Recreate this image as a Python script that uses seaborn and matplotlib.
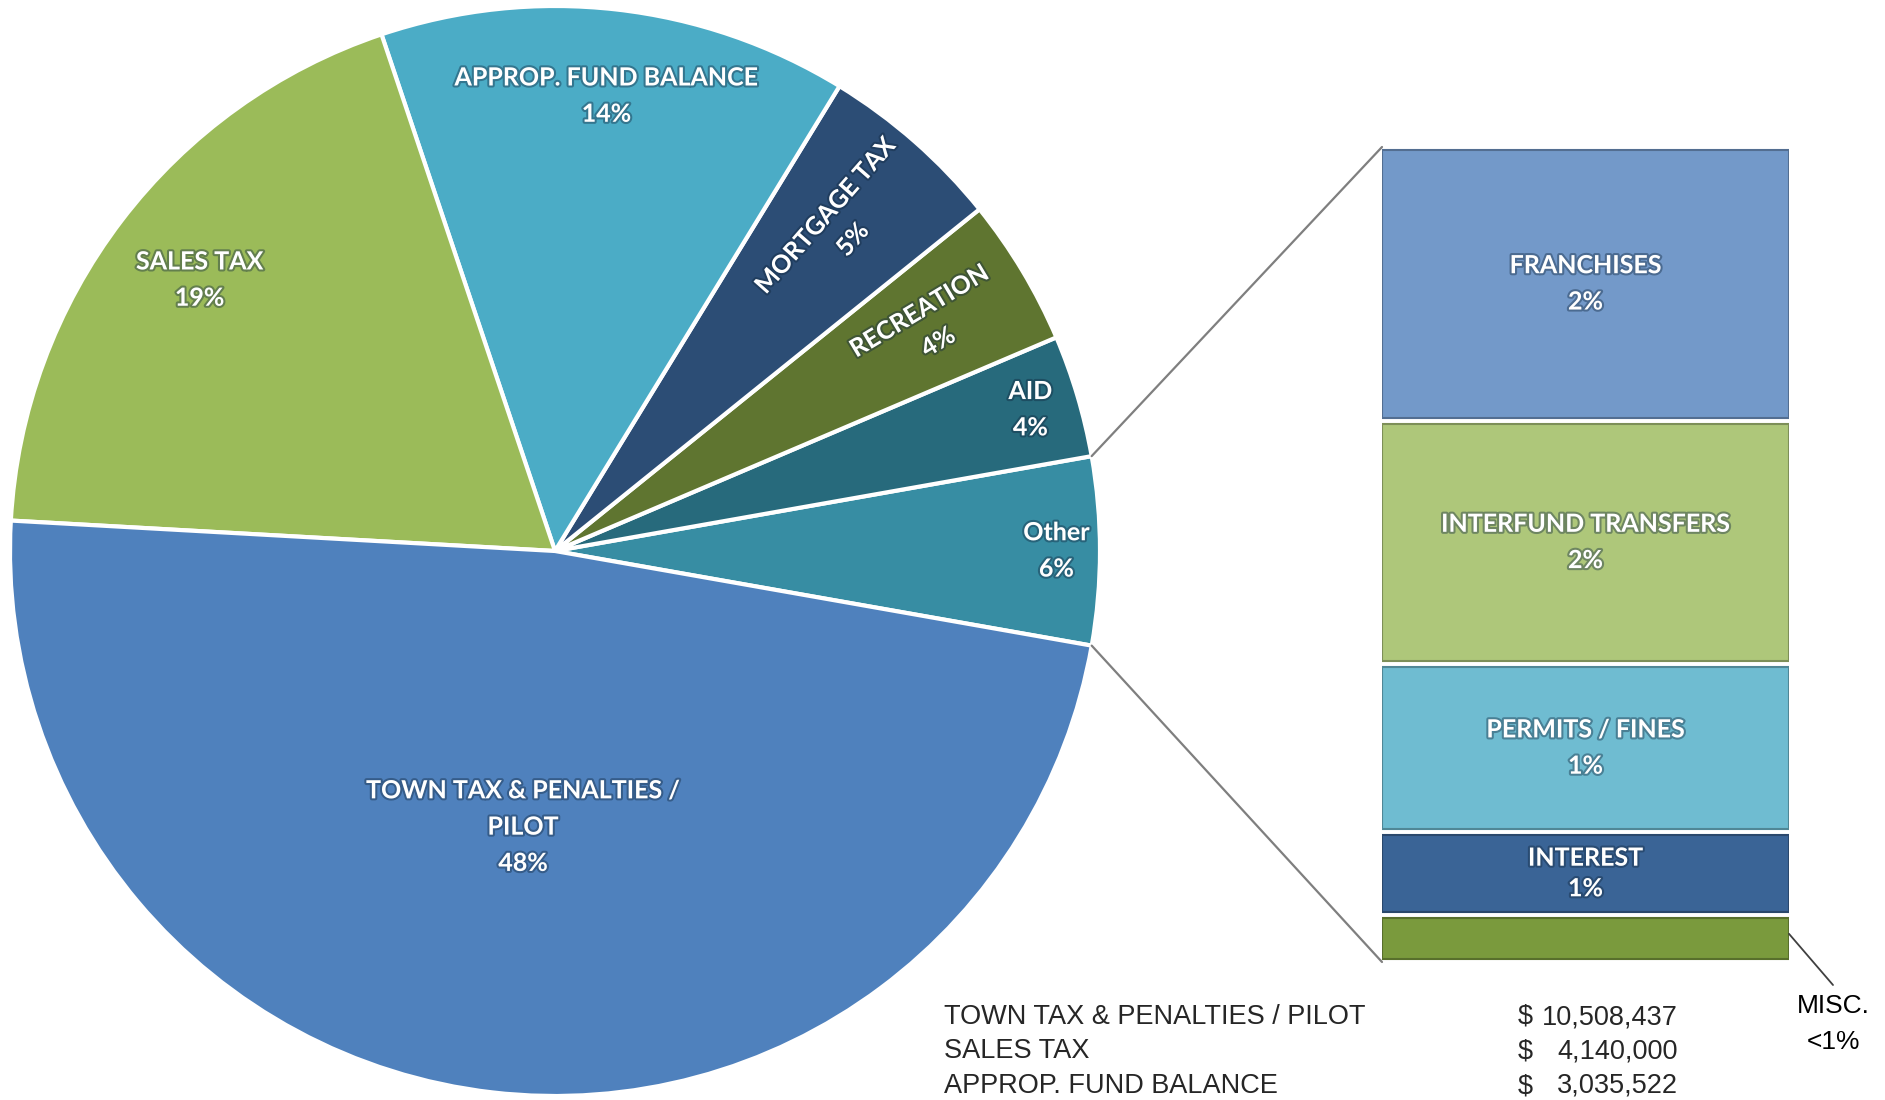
import matplotlib
matplotlib.use("Agg")
import matplotlib.pyplot as plt
import matplotlib.patheffects as pe
from matplotlib.patches import ConnectionPatch
import seaborn as sns
import numpy as np

# -------------------
# Data
# -------------------
categories = ["TOWN TAX & PENALTIES / PILOT", "SALES TAX", "APPROP. FUND BALANCE",
              "MORTGAGE TAX", "RECREATION", "AID", "Other"]
pie_labels = ["TOWN TAX & PENALTIES /\nPILOT", "SALES TAX", "APPROP. FUND BALANCE",
              "MORTGAGE TAX", "RECREATION", "AID", "Other"]
amounts = [10508437, 4140000, 3035522, 1195000, 956000, 792000]

other_items = ["FRANCHISES", "INTERFUND TRANSFERS", "PERMITS / FINES", "INTEREST", "MISC."]
other_amounts = [408000, 363000, 250000, 124000, 70000]
other_pct_text = ["2%", "2%", "1%", "1%", "<1%"]

pie_colors = ["#4F81BD", "#9BBB59", "#4BACC6", "#2C4D75", "#5F7530", "#276A7C", "#378DA3"]
bar_colors = ["#7399C9", "#AEC77A", "#6FBCD1", "#3A6496", "#7A9A3D"]

# "Other" slice is the sum of the breakdown bar
values = amounts + [sum(other_amounts)]
total = sum(values)

W, H = 1885, 1100
sns.set_theme(style="white")
plt.rcParams["font.family"] = ["Lato", "DejaVu Sans"]

fig = plt.figure(figsize=(W / 100, H / 100), dpi=100)

def px(x, y):
    return x / W, 1 - y / H

# -------------------
# Main pie
# -------------------
ax_pie = fig.add_axes([10 / W, 4 / H, 1090 / W, 1090 / H])
order = [6, 5, 4, 3, 2, 1, 0]  # counter-clockwise from the "Other" slice
wedges, _ = ax_pie.pie([values[i] for i in order], colors=[pie_colors[i] for i in order],
                       startangle=-10, counterclock=True, radius=1,
                       wedgeprops=dict(edgecolor="white", linewidth=3))
ax_pie.set_xlim(-1, 1)
ax_pie.set_ylim(-1, 1)
ax_pie.set_aspect("equal")
ax_pie.axis("off")

shadow = [pe.withStroke(linewidth=3, foreground="#10263d", alpha=0.4)]
label_r = {0: 0.51, 1: 0.82, 2: 0.84, 3: 0.79, 4: 0.80, 5: 0.91, 6: 0.92}
rotated = {3, 4}
for w, i in zip(wedges, order):
    mid = np.deg2rad((w.theta1 + w.theta2) / 2)
    pct = round(values[i] / total * 100)
    r = label_r[i]
    rot = np.rad2deg(mid) if i in rotated else 0
    ax_pie.text(r * np.cos(mid), r * np.sin(mid), f"{pie_labels[i]}\n{pct}%",
                ha="center", va="center", rotation=rot, rotation_mode="anchor",
                color="white", fontsize=18, fontweight="bold", linespacing=1.7,
                path_effects=shadow)

# -------------------
# Breakdown bar of "Other"
# -------------------
bx0, bx1, by0, by1 = 1382, 1789, 147, 962
ax_bar = fig.add_axes([bx0 / W, (H - by1) / H, (bx1 - bx0) / W, (by1 - by0) / H])
other_total = sum(other_amounts)
gap = other_total * 6 / (by1 - by0)
tops = other_total - np.concatenate([[0], np.cumsum(other_amounts)[:-1]])
for name, v, top, c, t in zip(other_items, other_amounts, tops, bar_colors, other_pct_text):
    edge = tuple(np.array(matplotlib.colors.to_rgb(c)) * 0.72)
    ax_bar.bar(0, v - gap, bottom=top - v + gap / 2, width=1.0, color=c,
               edgecolor=edge, linewidth=1.5)
    if name != "MISC.":
        ax_bar.text(0, top - v / 2, f"{name}\n{t}", ha="center", va="center",
                    color="white", fontsize=18, fontweight="bold",
                    linespacing=1.7 if v > 200000 else 1.4,
                    path_effects=shadow)
ax_bar.set_xlim(-0.5, 0.5)
ax_bar.set_ylim(0, other_total)
ax_bar.axis("off")

# connector lines between "Other" slice and the bar
other_w = wedges[0]
for ang, yb in [(other_w.theta2, other_total), (other_w.theta1, 0)]:
    a = np.deg2rad(ang)
    con = ConnectionPatch(xyA=(np.cos(a), np.sin(a)), coordsA=ax_pie.transData,
                          xyB=(-0.5, yb), coordsB=ax_bar.transData,
                          color="#7f7f7f", linewidth=1.6)
    fig.add_artist(con)

narrow = ["Liberation Sans Narrow", "Liberation Sans", "DejaVu Sans"]

# MISC callout
misc_mid = other_amounts[-1] * 0.6
con = ConnectionPatch(xyA=(0.5, misc_mid), coordsA=ax_bar.transData,
                      xyB=px(1833, 985), coordsB=fig.transFigure,
                      color="#404040", linewidth=1.3)
fig.add_artist(con)
fig.text(*px(1833, 1006), other_items[-1], ha="center", va="center",
         fontsize=19, family=narrow, color="black")
fig.text(*px(1833, 1042), other_pct_text[-1], ha="center", va="center",
         fontsize=19, family=narrow, color="black")

# -------------------
# Top three revenue amounts
# -------------------
for k, (name, amt) in enumerate(zip(categories[:3], amounts[:3])):
    y = 1017 + k * 34.5
    fig.text(*px(944, y), name, ha="left", va="center", fontsize=19.5, family=narrow)
    fig.text(*px(1518, y), "$", ha="left", va="center", fontsize=19.5, family=narrow)
    fig.text(*px(1678, y), f"{amt:,}", ha="right", va="center", fontsize=19.5, family=narrow)

fig.savefig("out.png", dpi=100, facecolor="white")
